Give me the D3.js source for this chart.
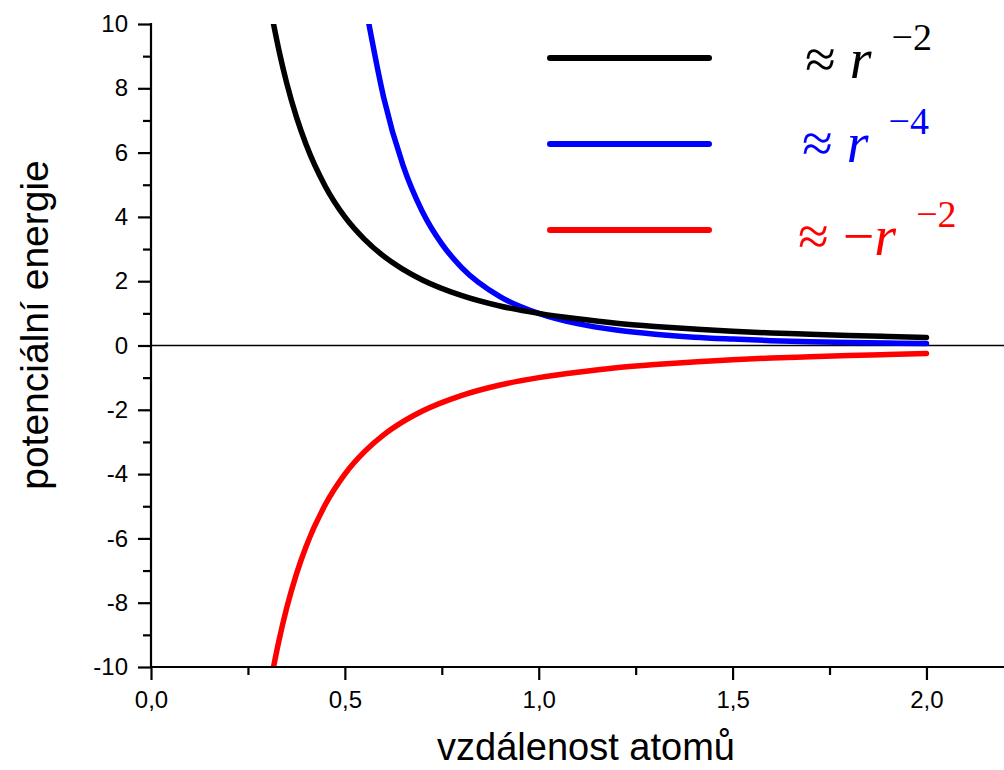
<!DOCTYPE html>
<html>
<head>
<meta charset="utf-8">
<script src="https://cdn.jsdelivr.net/npm/d3@7"></script>
<style>
  body { margin: 0; background: #fff; }
  svg { display: block; }
</style>
</head>
<body>
<div id="chart"></div>
<script>
// data
var rA = [0.316, 0.33, 0.35, 0.375, 0.4, 0.45, 0.5, 0.55, 0.6, 0.65, 0.7, 0.8, 0.9, 1.0, 1.1, 1.2, 1.3, 1.4, 1.5, 1.6, 1.7, 1.8, 1.9, 2.0];
var black = [10.0, 9.18, 8.16, 7.11, 6.25, 4.94, 4.0, 3.31, 2.78, 2.37, 2.04, 1.56, 1.23, 1.0, 0.83, 0.69, 0.59, 0.51, 0.44, 0.39, 0.35, 0.31, 0.28, 0.25];
var red = [-10.0, -9.18, -8.16, -7.11, -6.25, -4.94, -4.0, -3.31, -2.78, -2.37, -2.04, -1.56, -1.23, -1.0, -0.83, -0.69, -0.59, -0.51, -0.44, -0.39, -0.35, -0.31, -0.28, -0.25];
var rB = [0.562, 0.6, 0.65, 0.7, 0.75, 0.8, 0.9, 1.0, 1.1, 1.2, 1.3, 1.4, 1.5, 1.6, 1.7, 1.8, 1.9, 2.0];
var blue = [10.0, 7.72, 5.60, 4.16, 3.16, 2.44, 1.52, 1.0, 0.68, 0.48, 0.35, 0.26, 0.20, 0.15, 0.12, 0.095, 0.077, 0.0625];

var xMajor = [0, 0.5, 1.0, 1.5, 2.0];
var xMinor = [0.25, 0.75, 1.25, 1.75];
var yMajor = [-10, -8, -6, -4, -2, 0, 2, 4, 6, 8, 10];
var yMinor = [-9, -7, -5, -3, -1, 1, 3, 5, 7, 9];

var legend = [
  {color: "#000000", exp: "\u22122", neg: false},
  {color: "#0000ff", exp: "\u22124", neg: false},
  {color: "#ff0000", exp: "\u22122", neg: true}
];

const W = 1004, H = 770;
const svg = d3.select("#chart").append("svg").attr("width", W).attr("height", H);

var x = d3.scaleLinear().domain([0, 2.2]).range([151, 1004]);
var y = d3.scaleLinear().domain([-10, 10]).range([667, 24]);

var sans = "'Liberation Sans', Arial, sans-serif";
var serif = "'Liberation Serif', 'Times New Roman', serif";

// clip
svg.append("clipPath").attr("id","clip").append("rect")
  .attr("x",151).attr("y",24).attr("width",853).attr("height",643);

// zero line
svg.append("line")
  .attr("x1",x(0)).attr("x2",W).attr("y1",y(0)).attr("y2",y(0))
  .attr("stroke","#000").attr("stroke-width",1.5);

var line = d3.line().x(d=>x(d[0])).y(d=>y(d[1])).curve(d3.curveMonotoneX);

var series = [
  {r: rB, v: blue, c: "#0000ff"},
  {r: rA, v: black, c: "#000000"},
  {r: rA, v: red, c: "#ff0000"}
];
series.forEach(s=>{
  svg.append("path")
    .datum(s.r.map((r,i)=>[r, s.v[i]]))
    .attr("d", line)
    .attr("fill","none")
    .attr("stroke", s.c)
    .attr("stroke-width", 5.5)
    .attr("stroke-linecap","round")
    .attr("stroke-linejoin","round")
    .attr("clip-path","url(#clip)");
});

// axes
var xAxis = svg.append("g").attr("transform","translate(0,"+y(-10)+")")
  .call(d3.axisBottom(x).tickValues(xMajor).tickSize(13).tickPadding(11)
    .tickFormat(d=>d3.format(".1f")(d).replace(".",",")));
var xMin = svg.append("g").attr("transform","translate(0,"+y(-10)+")")
  .call(d3.axisBottom(x).tickValues(xMinor).tickSize(8).tickFormat(""));
var yAxis = svg.append("g").attr("transform","translate("+x(0)+",0)")
  .call(d3.axisLeft(y).tickValues(yMajor).tickSize(13).tickPadding(10)
    .tickFormat(d=>String(d)));
var yMin = svg.append("g").attr("transform","translate("+x(0)+",0)")
  .call(d3.axisLeft(y).tickValues(yMinor).tickSize(8).tickFormat(""));

[xAxis, xMin, yAxis, yMin].forEach(g=>{
  g.select(".domain").remove();
  g.selectAll(".tick line").attr("stroke","#000").attr("stroke-width",2.2);
  g.selectAll(".tick text").attr("fill","#000").style("font-family",sans).style("font-size","24px");
});
// spines
svg.append("line").attr("x1",x(0)).attr("x2",W).attr("y1",y(-10)).attr("y2",y(-10))
  .attr("stroke","#000").attr("stroke-width",2.2);
svg.append("line").attr("x1",x(0)).attr("x2",x(0)).attr("y1",y(10)-1).attr("y2",y(-10)+1)
  .attr("stroke","#000").attr("stroke-width",2.2);

// axis titles
svg.append("text").attr("x",586).attr("y",760).attr("text-anchor","middle")
  .style("font-family",sans).style("font-size","38px").text("vzdálenost atomů");
svg.append("text").attr("transform","translate(48,325) rotate(-90)").attr("text-anchor","middle")
  .style("font-family",sans).style("font-size","39px").text("potenciální energie");

// legend
var ly = [58, 144, 230];
var tb = [78, 162, 255];
var tx = [805, 802, 798];
legend.forEach((d,i)=>{
  svg.append("line").attr("x1",550).attr("x2",709).attr("y1",ly[i]).attr("y2",ly[i])
    .attr("stroke",d.color).attr("stroke-width",6).attr("stroke-linecap","round");
  var t = svg.append("text").attr("x", tx[i]).attr("y",tb[i])
    .attr("fill",d.color).style("font-family",serif).style("font-size","56px");
  t.append("tspan").text("\u2248 ");
  if (d.neg) t.append("tspan").text("\u2212");
  t.append("tspan").style("font-style","italic").text("r");
  t.append("tspan").attr("dy",-28).attr("dx",20).style("font-size","38px").text(d.exp);
});
</script>
</body>
</html>
